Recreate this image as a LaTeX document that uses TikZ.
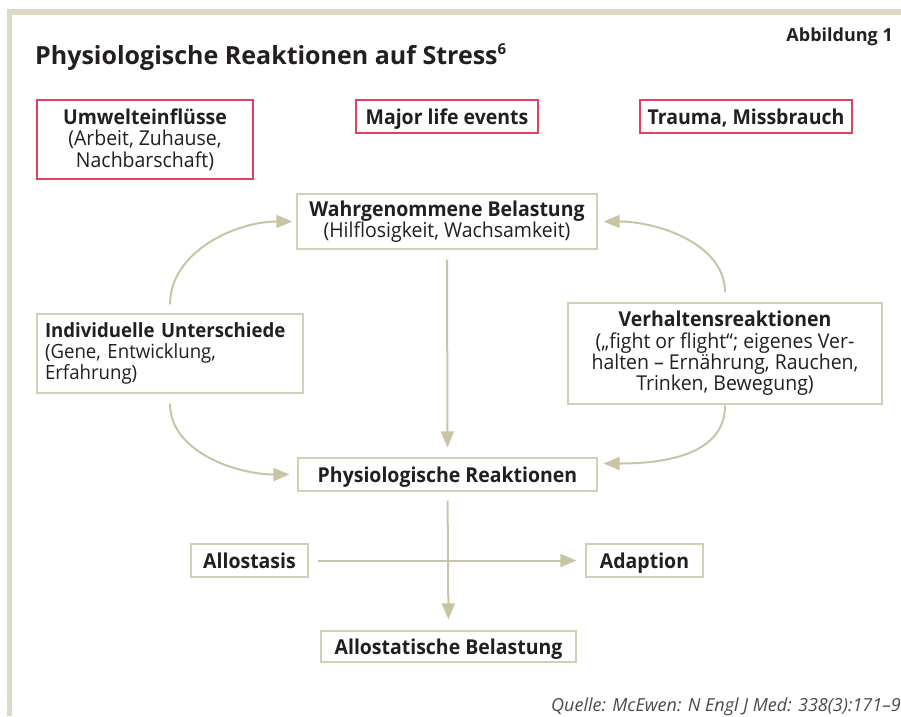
\documentclass[tikz,border=0pt]{standalone}
\usepackage{fontspec}
\setmainfont{Open Sans}
\newfontfamily\boxfam{Open Sans}[FakeStretch=0.95]
\usetikzlibrary{arrows.meta}
\definecolor{framec}{HTML}{DCD9C7}
\definecolor{boxc}{HTML}{D3CFB5}
\definecolor{linec}{HTML}{C9C4A6}
\definecolor{redc}{HTML}{E2405C}
\definecolor{txt}{HTML}{231F20}
\definecolor{srcc}{HTML}{4A4A4A}
\newcommand{\boxfont}{\boxfam\fontsize{20.5}{21.3}\selectfont}
\tikzset{
  box/.style={draw=boxc, line width=1.2pt, fill=white, inner sep=0pt, text=txt, font=\boxfont, align=center},
  redbox/.style={box, draw=redc},
  oneline/.style={text height=15pt, text depth=0pt},
  arr/.style={draw=linec, line width=2pt, -{Triangle[length=16pt,width=13pt]}},
}
\begin{document}
\begin{tikzpicture}[x=1pt,y=-1pt]
\useasboundingbox (0,0) rectangle (901,716);
% frame
\fill[framec] (7,9) rectangle (901,15);
\fill[framec] (7,9) rectangle (12,716);
% title
\node[anchor=base west, inner sep=0pt, text=txt, font=\fontsize{25}{29}\selectfont\bfseries] (title) at (35,64) {Physiologische Reaktionen auf Stress\textsuperscript{\fontsize{15}{15}\selectfont 6}};
\node[anchor=base east, inner sep=0pt, text=txt, font=\fontsize{18}{21}\selectfont\bfseries] (abb) at (893,41) {Abbildung 1};
% top boxes
\node[redbox, minimum width=216pt, minimum height=79pt] (umw) at (145,139.5) {\textbf{Umwelteinflüsse}\\(Arbeit, Zuhause,\\Nachbarschaft)};
\node[redbox, oneline, minimum width=182pt, minimum height=33pt] (major) at (447,116.5) {\textbf{Major life events}};
\node[redbox, oneline, minimum width=212pt, minimum height=33pt] (trauma) at (746,116.5) {\textbf{Trauma, Missbrauch}};
% middle
\node[box, minimum width=300pt, minimum height=55pt] (wahr) at (447,221.5) {\textbf{Wahrgenommene Belastung}\\(Hilflosigkeit, Wachsamkeit)};
\node[box, minimum width=266pt, minimum height=79pt, text width=250pt, inner xsep=8pt, align=left, font=\boxfam\fontsize{19.6}{21.3}\selectfont] (indiv) at (170,353.5) {\textbf{Individuelle Unterschiede}\\(Gene, Entwicklung,\\Erfahrung)};
\node[box, minimum width=314pt, minimum height=101pt] (verh) at (725,353.5) {\textbf{Verhaltensreaktionen}\\(„fight or flight“; eigenes Ver-\\halten – Ernährung, Rauchen,\\Trinken, Bewegung)};
\node[box, oneline, minimum width=299pt, minimum height=33pt] (phys) at (447.5,474.5) {\textbf{Physiologische Reaktionen}};
\node[box, oneline, minimum width=117pt, minimum height=33pt] (allo) at (249.5,560.5) {\textbf{Allostasis}};
\node[box, oneline, minimum width=117pt, minimum height=33pt] (adap) at (644.5,560.5) {\textbf{Adaption}};
\node[box, oneline, minimum width=255pt, minimum height=31pt] (allob) at (448.5,646.5) {\textbf{Allostatische Belastung}};
% source
\node[anchor=base east, inner sep=0pt, text=srcc, font=\fontsize{18}{21}\selectfont\itshape] (src) at (901,711) {Quelle: McEwen: N Engl J Med: 338(3):171–9};
% connectors
\draw[arr, shorten <=10pt, shorten >=10pt] (wahr.south) -- (phys.north);
\draw[arr, shorten <=9pt, shorten >=11pt] (phys.south) -- (allob.north);
\draw[arr, shorten <=9pt, shorten >=9pt] (allo.east) -- (adap.west);
\draw[arr, shorten <=9pt, shorten >=4pt] (indiv.north) to[out=90,in=180] (wahr.west);
\draw[arr, shorten <=10pt, shorten >=6pt] (verh.north) to[out=90,in=0] (wahr.east);
\draw[arr, shorten <=10pt, shorten >=8pt] (indiv.south) to[out=-90,in=180] (phys.west);
\draw[arr, shorten <=1pt, shorten >=6pt] (verh.south) to[out=-90,in=0] ([yshift=11pt]phys.east);
\end{tikzpicture}
\end{document}
